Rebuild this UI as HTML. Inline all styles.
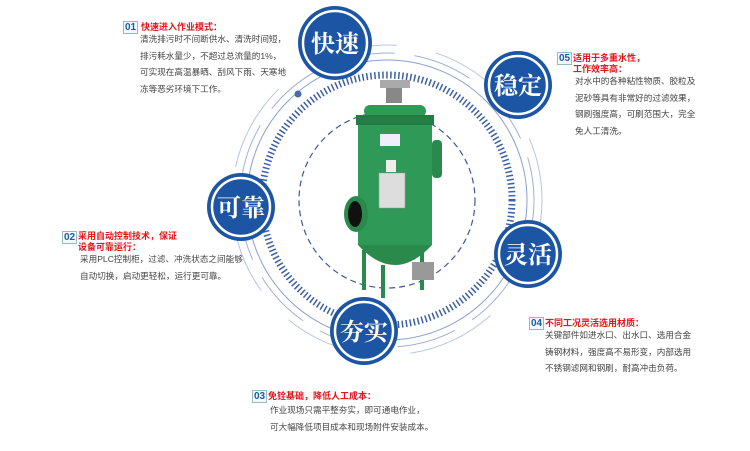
<!DOCTYPE html>
<html><head><meta charset="utf-8"><style>
body{margin:0;width:750px;height:451px;background:#fff;position:relative;overflow:hidden;font-family:"Liberation Sans","Noto Sans CJK SC",sans-serif}
.b{position:absolute;font-size:8.6px;color:#444;line-height:16.5px;white-space:nowrap}
.t{position:absolute;font-size:9px;color:#e0161b;font-weight:bold;line-height:11px;white-space:nowrap}
.n{position:absolute;font-size:10px;font-weight:bold;color:#1b5aa8;border:1px solid #9bb;background:#f4f8fc;padding:0 1px;line-height:11px}
</style></head><body>
<svg width="750" height="451" style="position:absolute;left:0;top:0">
<g fill="none">
<circle cx="387" cy="200" r="88" stroke="#3a5a9a" stroke-width="1.2" stroke-dasharray="6 4"/>
<circle cx="387" cy="200" r="125" stroke="#3c5fa5" stroke-width="7" stroke-dasharray="1.5 2.5"/>
<circle cx="387" cy="200" r="140" stroke="#8aa0cf" stroke-width="1"/>
<circle cx="387" cy="200" r="147" stroke="#9fb0d8" stroke-width="1" stroke-dasharray="60 20"/>
<circle cx="387" cy="200" r="155" stroke="#b8c4e2" stroke-width="1" stroke-dasharray="90 40"/>
</g>
<circle cx="298" cy="94" r="3.5" fill="#4a6ab0"/>
<!-- filter -->
<g>
<rect x="386" y="83" width="16" height="20" fill="#888"/>
<rect x="380" y="80" width="30" height="8" fill="#aaa"/>
<rect x="364" y="105" width="62" height="12" rx="6" fill="#2f9a55"/>
<rect x="356" y="115" width="78" height="10" fill="#237d43"/>
<rect x="358" y="125" width="74" height="120" fill="#2f9a57"/>
<path d="M358 245 Q395 285 432 245 Z" fill="#2a8a4c"/>
<rect x="432" y="140" width="10" height="38" rx="4" fill="#2a8a4c"/>
<ellipse cx="356" cy="214" rx="12" ry="18" fill="#2a8a4c"/>
<ellipse cx="355" cy="214" rx="7" ry="13" fill="#111"/>
<rect x="379" y="173" width="26" height="35" fill="#ddd" stroke="#999" stroke-width=".5"/>
<rect x="386" y="160" width="10" height="12" fill="#eee"/>
<rect x="380" y="134" width="20" height="12" fill="#eef"/>
<rect x="362" y="250" width="4" height="40" fill="#2a8a4c"/>
<rect x="381" y="265" width="4" height="33" fill="#2a8a4c"/>
<rect x="420" y="250" width="4" height="40" fill="#2a8a4c"/>
<rect x="412" y="262" width="22" height="18" fill="#999"/>
</g>
<g font-family="Liberation Serif,Noto Serif CJK SC,serif" font-weight="bold" font-size="24" fill="#fff" text-anchor="middle">
<g><circle cx="335" cy="43" r="37" fill="#1d55a5"/><circle cx="335" cy="43" r="32" fill="none" stroke="#fff" stroke-width="2.5"/><text x="335" y="52">快速</text></g>
<g><circle cx="518" cy="85" r="34" fill="#1d55a5"/><circle cx="518" cy="85" r="29" fill="none" stroke="#fff" stroke-width="2.5"/><text x="518" y="94">稳定</text></g>
<g><circle cx="241" cy="207" r="34" fill="#1d55a5"/><circle cx="241" cy="207" r="29" fill="none" stroke="#fff" stroke-width="2.5"/><text x="241" y="216">可靠</text></g>
<g><circle cx="528" cy="254" r="34" fill="#1d55a5"/><circle cx="528" cy="254" r="29" fill="none" stroke="#fff" stroke-width="2.5"/><text x="528" y="263">灵活</text></g>
<g><circle cx="364" cy="331" r="34" fill="#1d55a5"/><circle cx="364" cy="331" r="29" fill="none" stroke="#fff" stroke-width="2.5"/><text x="364" y="340">夯实</text></g>
</g>
</svg>
<span class="n" style="left:123px;top:21px">01</span>
<div class="t" style="left:141px;top:22px">快速进入作业模式：</div>
<div class="b" style="left:140px;top:31px">清洗排污时不间断供水、清洗时间短，<br>排污耗水量少，不超过总流量的1%，<br>可实现在高温暴晒、刮风下雨、天寒地<br>冻等恶劣环境下工作。</div>
<span class="n" style="left:557px;top:52px">05</span>
<div class="t" style="left:573px;top:53px">适用于多重水性，<br>工作效率高：</div>
<div class="b" style="left:575px;top:73px">对水中的各种粘性物质、胶粒及<br>泥砂等具有非常好的过滤效果，<br>钢刷强度高，可刷范围大，完全<br>免人工清洗。</div>
<span class="n" style="left:62px;top:231px">02</span>
<div class="t" style="left:78px;top:231px">采用自动控制技术，保证<br>设备可靠运行：</div>
<div class="b" style="left:80px;top:251px">采用PLC控制柜，过滤、冲洗状态之间能够<br>自动切换，启动更轻松，运行更可靠。</div>
<span class="n" style="left:529px;top:317px">04</span>
<div class="t" style="left:545px;top:318px">不同工况灵活选用材质：</div>
<div class="b" style="left:545px;top:327px">关键部件如进水口、出水口、选用合金<br>铸钢材料，强度高不易形变，内部选用<br>不锈钢滤网和钢刷，耐高冲击负荷。</div>
<span class="n" style="left:252px;top:390px">03</span>
<div class="t" style="left:268px;top:391px">免铨基础，降低人工成本：</div>
<div class="b" style="left:270px;top:402px">作业现场只需平整夯实，即可通电作业，<br>可大幅降低项目成本和现场附件安装成本。</div>
</body></html>
